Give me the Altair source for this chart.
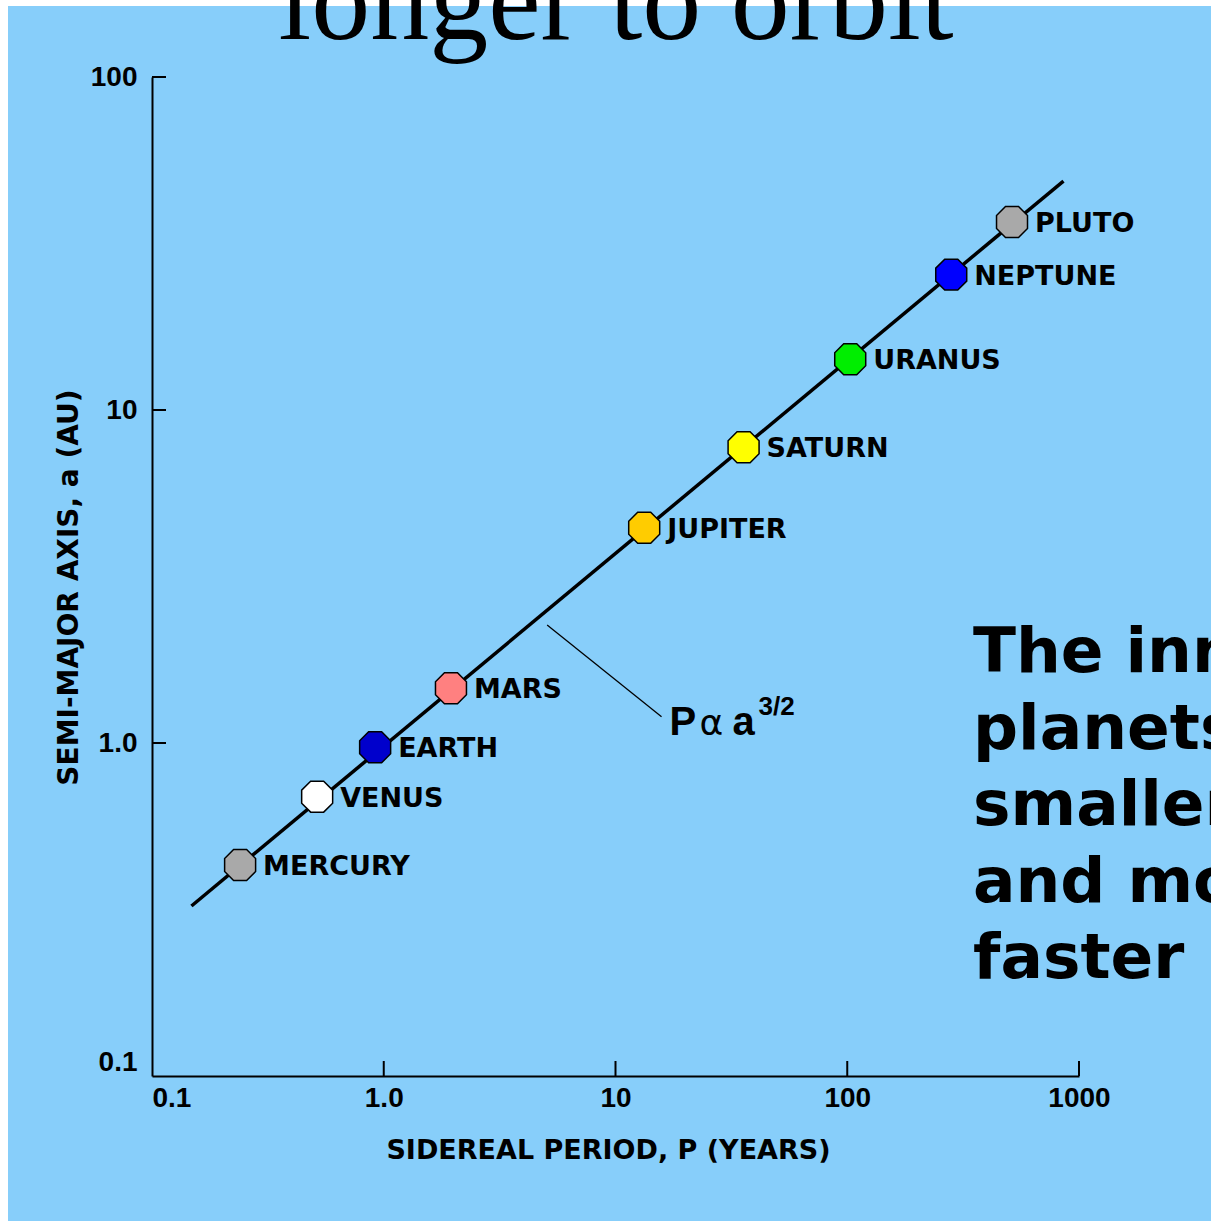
import json

import altair as alt
import pandas as pd

# Planets: sidereal period P (years) and semi-major axis a (AU)
planets = ["MERCURY", "VENUS", "EARTH", "MARS", "JUPITER",
           "SATURN", "URANUS", "NEPTUNE", "PLUTO"]
period_years = [0.240, 0.516, 0.918, 1.95, 13.3, 35.7, 103, 281, 514]
axis_au = [0.430, 0.690, 0.971, 1.46, 4.43, 7.73, 14.2, 25.5, 36.7]
planet_colors = ["#a9a9a9", "#ffffff", "#0000cc", "#ff8080", "#ffcc00",
                 "#ffff00", "#00ee00", "#0000ff", "#a9a9a9"]

# End points of the P-a relation line
fit_period = [0.148, 857]
fit_axis = [0.324, 48.7]

# Leader from the relation line to its note
leader_period = [5.07, 15.8]
leader_axis = [2.26, 1.20]

x_ticks = [0.1, 1, 10, 100, 1000]
x_tick_labels = ["0.1", "1.0", "10", "100", "1000"]
y_ticks = [0.1, 1, 10, 100]
y_tick_labels = ["0.1", "1.0", "10", "100"]

heading = "longer to orbit"
note_lines = ["The inner", "planets have", "smaller orbits", "and move", "faster"]

# ---- layout -------------------------------------------------------------
PAGE_W, PAGE_H = 1211, 1222
PAD_L, PAD_T, PAD_R, PAD_B = 152, 77, 132, 146
W = PAGE_W - PAD_L - PAD_R
H = PAGE_H - PAD_T - PAD_B
SKY = "#87cefa"
BOLD_SANS = "DejaVu Sans"
TICK_FONT = "Liberation Sans"


def label_expr(values, labels):
    return "{}[indexof({}, datum.value)]".format(json.dumps(labels), json.dumps(values))


x_scale = alt.Scale(type="log", domain=[x_ticks[0], x_ticks[-1]], nice=False)
y_scale = alt.Scale(type="log", domain=[y_ticks[0], y_ticks[-1]], nice=False)

x_axis = alt.Axis(
    values=x_ticks, labelExpr=label_expr(x_ticks, x_tick_labels),
    title="SIDEREAL PERIOD, P (YEARS)", grid=False, tickSize=0,
    domainColor="black", domainWidth=2, zindex=1,
    labelFont=TICK_FONT, labelFontWeight="bold", labelFontSize=28,
    labelColor="black", labelPadding=8, labelFlush=False, labelOverlap=False,
    labelAlign={"condition": {"test": "datum.value < 0.5", "value": "left"},
                "value": "center"},
    titleFont=BOLD_SANS, titleFontWeight="bold", titleFontSize=27,
    titleColor="black", titleX=456, titleY=82, titleAlign="center",
    titleBaseline="alphabetic",
)
y_axis = alt.Axis(
    values=y_ticks, labelExpr=label_expr(y_ticks, y_tick_labels),
    title="SEMI-MAJOR AXIS, a (AU)", grid=False, tickSize=0,
    domainColor="black", domainWidth=2, zindex=1,
    labelFont=TICK_FONT, labelFontWeight="bold", labelFontSize=28,
    labelColor="black", labelPadding=15, labelOverlap=False,
    labelBaseline={"condition": {"test": "datum.value < 0.5", "value": "bottom"},
                   "value": "middle"},
    titleFont=BOLD_SANS, titleFontWeight="bold", titleFontSize=28,
    titleColor="black", titleX=-83, titleY=510, titleAlign="center",
    titleBaseline="middle", titleAngle=270,
)


def X(field):
    return alt.X(field, type="quantitative", scale=x_scale, axis=x_axis)


def Y(field):
    return alt.Y(field, type="quantitative", scale=y_scale, axis=y_axis)


one = pd.DataFrame({"k": [0]})

# sky-blue panel behind everything
panel = alt.Chart(one).mark_rect(color=SKY).encode(
    x=alt.value(8 - PAD_L), x2=alt.value(PAGE_W - PAD_L),
    y=alt.value(6 - PAD_T), y2=alt.value(PAGE_H - 1 - PAD_T),
)

# inward tick marks
x_tick_rules = alt.Chart(pd.DataFrame({"P": x_ticks[1:]})).mark_rule(
    color="black", strokeWidth=2).encode(
    x=X("P"), y=alt.value(H), y2=alt.value(H - 15))
y_tick_rules = alt.Chart(pd.DataFrame({"a": y_ticks[1:]})).mark_rule(
    color="black", strokeWidth=2).encode(
    y=Y("a"), x=alt.value(0), x2=alt.value(14))

fit = alt.Chart(pd.DataFrame({"P": fit_period, "a": fit_axis})).mark_line(
    color="black", strokeWidth=3.5).encode(x=X("P"), y=Y("a"))

leader = alt.Chart(pd.DataFrame({"P": leader_period, "a": leader_axis})).mark_line(
    color="black", strokeWidth=1.3).encode(x=X("P"), y=Y("a"))

planet_df = pd.DataFrame({"planet": planets, "P": period_years, "a": axis_au})

OCTAGON = "M-0.42,-1L0.42,-1L1,-0.42L1,0.42L0.42,1L-0.42,1L-1,0.42L-1,-0.42Z"
dots = alt.Chart(planet_df).mark_point(
    filled=True, shape=OCTAGON, size=960, stroke="black", strokeWidth=1.5,
    opacity=1).encode(
    x=X("P"), y=Y("a"),
    fill=alt.Fill("planet:N", scale=alt.Scale(domain=planets, range=planet_colors),
                  legend=None),
)

names = alt.Chart(planet_df).mark_text(
    align="left", baseline="middle", dx=23, dy=2, font=BOLD_SANS,
    fontWeight="bold", fontSize=27, color="black").encode(
    x=X("P"), y=Y("a"), text="planet:N")

# "P α a^3/2" note at the end of the leader
anchor = pd.DataFrame({"P": [leader_period[1]], "a": [leader_axis[1]]})


def note_part(txt, dx, dy, size, weight, font):
    return alt.Chart(anchor).mark_text(
        text=txt, align="left", baseline="alphabetic", dx=dx, dy=dy,
        fontSize=size, fontWeight=weight, font=font, color="black").encode(
        x=X("P"), y=Y("a"))


relation = [
    note_part("P", 8, 18, 40, "bold", TICK_FONT),
    note_part("α", 38, 18, 36, "normal", "DejaVu Sans"),
    note_part("a", 71, 18, 40, "bold", TICK_FONT),
    note_part("3/2", 97, -2, 26, "bold", TICK_FONT),
]

title_text = alt.Chart(one).mark_text(
    text=heading, align="center", baseline="alphabetic",
    font="Liberation Serif", fontSize=118, color="black").encode(
    x=alt.value(616 - PAD_L), y=alt.value(39 - PAD_T))

side_note = alt.Chart(one).mark_text(
    text=note_lines, align="left", baseline="alphabetic", lineHeight=76.5,
    font=BOLD_SANS, fontWeight="bold", fontSize=63, color="black").encode(
    x=alt.value(973 - PAD_L), y=alt.value(672 - PAD_T))

chart = alt.layer(
    panel, x_tick_rules, y_tick_rules, fit, leader, dots, names,
    *relation, title_text, side_note,
).properties(
    width=W, height=H,
    autosize=alt.AutoSizeParams(type="none"),
    padding={"left": PAD_L, "top": PAD_T, "right": PAD_R, "bottom": PAD_B},
    background="white",
).configure_view(strokeWidth=0)

chart.save("out.html", embed_options={"renderer": "svg", "actions": False})
